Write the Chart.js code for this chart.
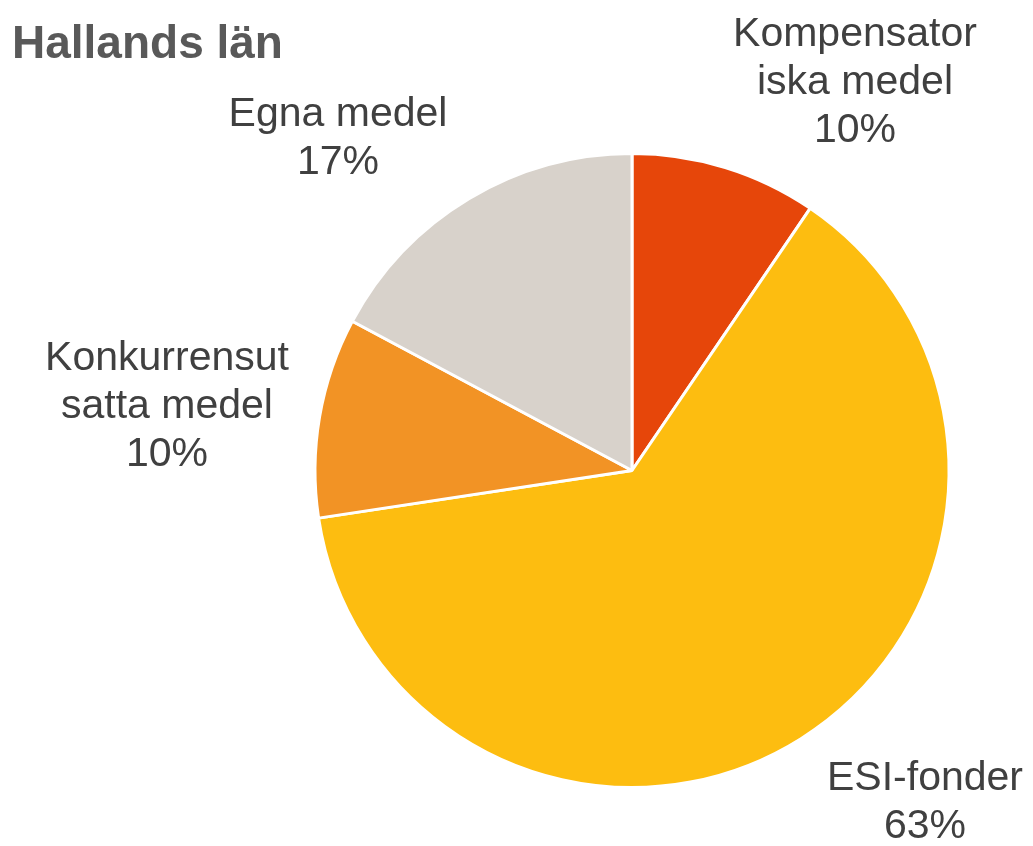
<!DOCTYPE html>
<html>
<head>
<meta charset="utf-8">
<script src="https://cdn.jsdelivr.net/npm/chart.js@4"></script>
<style>
  html, body { margin: 0; padding: 0; background: #fff; }
  #wrap { position: relative; width: 1033px; height: 846px; }
</style>
</head>
<body>
<div id="wrap"><canvas id="pieChart" width="1033" height="846"></canvas></div>
<script>
// DATA
const title = "Hallands län";
const categories = ["Kompensatoriska medel", "ESI-fonder", "Konkurrensutsatta medel", "Egna medel"];
const labelLines = [["Kompensator", "iska medel"], ["ESI-fonder"], ["Konkurrensut", "satta medel"], ["Egna medel"]];
const shares = [9.5, 63.1, 10.2, 17.2];
const colors = ["#E6460A", "#FDBD10", "#F29325", "#D8D2CB"];

// label placement, offset from pie centre (px)
const labelOffsets = [[223, -388], [293, 332], [-465, -64], [-294, -332]];

// OUTSIDE LABELS + TITLE
const outsideLabels = {
  id: "outsideLabels",
  afterDraw(chart) {
    const ctx = chart.ctx;
    const arcs = chart.getDatasetMeta(0).data;
    ctx.save();

    ctx.fillStyle = "#595959";
    ctx.font = "bold 46px 'Liberation Sans', Arial, sans-serif";
    ctx.textAlign = "left";
    ctx.textBaseline = "middle";
    ctx.fillText(title, 12, 45);

    ctx.fillStyle = "#404040";
    ctx.font = "41px 'Liberation Sans', Arial, sans-serif";
    ctx.textAlign = "center";
    const lh = 48;
    arcs.forEach(function (arc, i) {
      const lines = labelLines[i].concat([Math.round(shares[i]) + "%"]);
      const cx = arc.x + labelOffsets[i][0];
      const cy = arc.y + labelOffsets[i][1];
      const top = cy - (lines.length - 1) * lh / 2;
      lines.forEach(function (t, j) {
        ctx.fillText(t, cx, top + j * lh);
      });
    });
    ctx.restore();
  }
};

const ctx = document.getElementById("pieChart").getContext("2d");

new Chart(ctx, {
  type: "pie",
  data: {
    labels: categories,
    datasets: [{
      data: shares,
      backgroundColor: colors,
      borderColor: "#ffffff",
      borderWidth: 3
    }]
  },
  options: {
    responsive: false,
    animation: false,
    layout: { padding: { left: 313, right: 82, top: 152, bottom: 57 } },
    plugins: {
      legend: { display: false },
      tooltip: { enabled: false }
    }
  },
  plugins: [outsideLabels]
});
</script>
</body>
</html>
